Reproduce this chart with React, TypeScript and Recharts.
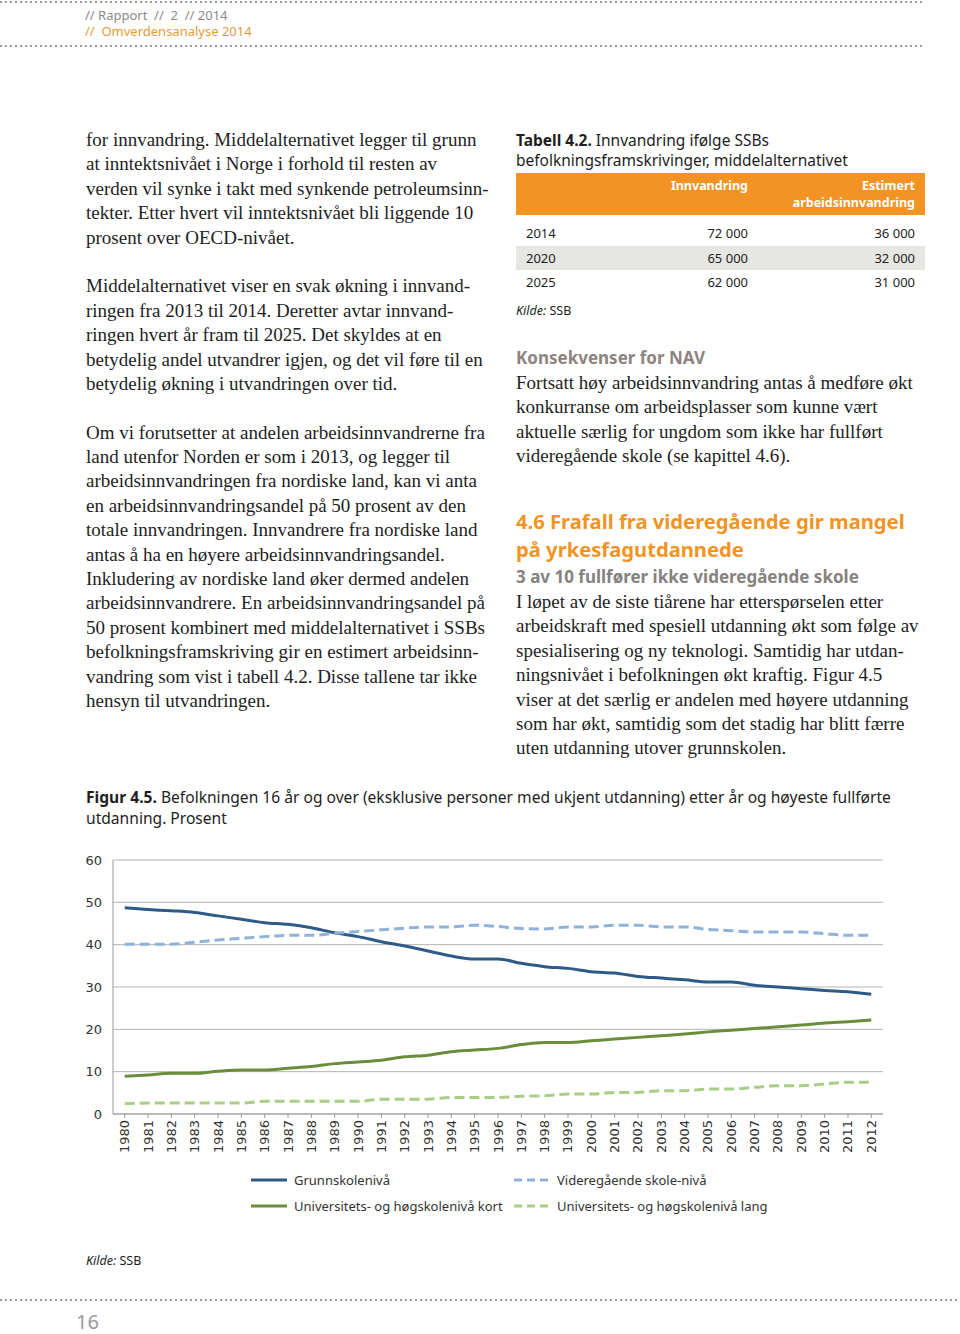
import React from "react";
import { LineChart, Line, XAxis, YAxis, CartesianGrid } from "recharts";

const years = [
  "1980","1981","1982","1983","1984","1985","1986","1987","1988","1989","1990",
  "1991","1992","1993","1994","1995","1996","1997","1998","1999","2000","2001",
  "2002","2003","2004","2005","2006","2007","2008","2009","2010","2011","2012",
];
const grunnskole = [
  48.7, 48.3, 48.0, 47.6, 46.8, 46.0, 45.2, 44.8, 44.0, 42.8, 41.9,
  40.7, 39.7, 38.5, 37.3, 36.6, 36.6, 35.6, 34.8, 34.4, 33.6, 33.3,
  32.5, 32.1, 31.7, 31.2, 31.2, 30.4, 30.0, 29.6, 29.2, 28.9, 28.3,
];
const videregaende = [
  40.1, 40.1, 40.1, 40.6, 41.1, 41.5, 41.9, 42.2, 42.2, 42.7, 43.1,
  43.5, 43.9, 44.2, 44.2, 44.6, 44.3, 43.8, 43.7, 44.2, 44.2, 44.6,
  44.6, 44.2, 44.2, 43.6, 43.3, 43.0, 43.0, 43.0, 42.6, 42.2, 42.2,
];
const uniKort = [
  8.9, 9.2, 9.6, 9.6, 10.1, 10.4, 10.4, 10.8, 11.2, 11.9, 12.3,
  12.7, 13.5, 13.9, 14.7, 15.1, 15.5, 16.4, 16.9, 16.9, 17.3, 17.7,
  18.1, 18.5, 18.9, 19.4, 19.8, 20.2, 20.6, 21.0, 21.5, 21.8, 22.2,
];
const uniLang = [
  2.4, 2.6, 2.6, 2.6, 2.6, 2.6, 3.0, 3.0, 3.0, 3.0, 3.0,
  3.5, 3.5, 3.5, 3.9, 3.9, 3.9, 4.2, 4.3, 4.7, 4.7, 5.1,
  5.1, 5.5, 5.5, 5.9, 5.9, 6.3, 6.7, 6.7, 7.1, 7.5, 7.5,
];
const yTicks = [0, 10, 20, 30, 40, 50, 60];

const seriesNames = [
  "Grunnskolenivå",
  "Videregående skole-nivå",
  "Universitets- og høgskolenivå kort",
  "Universitets- og høgskolenivå lang",
];

const tableYears = ["2014", "2020", "2025"];
const tableInnvandring = ["72 000", "65 000", "62 000"];
const tableArbeid = ["36 000", "32 000", "31 000"];

const leftText = [
  "for innvandring. Middelalternativet legger til grunn",
  "at inntektsnivået i Norge i forhold til resten av",
  "verden vil synke i takt med synkende petroleumsinn-",
  "tekter. Etter hvert vil inntektsnivået bli liggende 10",
  "prosent over OECD-nivået.",
  "",
  "Middelalternativet viser en svak økning i innvand-",
  "ringen fra 2013 til 2014. Deretter avtar innvand-",
  "ringen hvert år fram til 2025. Det skyldes at en",
  "betydelig andel utvandrer igjen, og det vil føre til en",
  "betydelig økning i utvandringen over tid.",
  "",
  "Om vi forutsetter at andelen arbeidsinnvandrerne fra",
  "land utenfor Norden er som i 2013, og legger til",
  "arbeidsinnvandringen fra nordiske land, kan vi anta",
  "en arbeidsinnvandringsandel på 50 prosent av den",
  "totale innvandringen. Innvandrere fra nordiske land",
  "antas å ha en høyere arbeidsinnvandringsandel.",
  "Inkludering av nordiske land øker dermed andelen",
  "arbeidsinnvandrere. En arbeidsinnvandringsandel på",
  "50 prosent kombinert med middelalternativet i SSBs",
  "befolkningsframskriving gir en estimert arbeidsinn-",
  "vandring som vist i tabell 4.2. Disse tallene tar ikke",
  "hensyn til utvandringen.",
];
const navText = [
  "Fortsatt høy arbeidsinnvandring antas å medføre økt",
  "konkurranse om arbeidsplasser som kunne vært",
  "aktuelle særlig for ungdom som ikke har fullført",
  "videregående skole (se kapittel 4.6).",
];
const sectionText = [
  "I løpet av de siste tiårene har etterspørselen etter",
  "arbeidskraft med spesiell utdanning økt som følge av",
  "spesialisering og ny teknologi. Samtidig har utdan-",
  "ningsnivået i befolkningen økt kraftig. Figur 4.5",
  "viser at det særlig er andelen med høyere utdanning",
  "som har økt, samtidig som det stadig har blitt færre",
  "uten utdanning utover grunnskolen.",
];

const chartData = years.map((y, i) => ({
  year: y,
  grunnskole: grunnskole[i],
  videregaende: videregaende[i],
  uniKort: uniKort[i],
  uniLang: uniLang[i],
}));

const SERIF = "'Liberation Serif', 'Times New Roman', serif";
const SANS = "'Noto Sans', 'Open Sans', sans-serif";
const CHART_FONT = "'DejaVu Sans', Verdana, sans-serif";
const ORANGE = "#F39323";
const TEXT = "#1e1e1e";

const colors = ["#2E5A88", "#8FB2DA", "#6A8D3A", "#A9CD85"];

const dotted = (top: number, width: number): React.CSSProperties => ({
  position: "absolute",
  top,
  left: 0,
  width,
  height: 2,
  backgroundImage: "linear-gradient(to right, #9a9a9a 0 2px, transparent 2px 5px)",
  backgroundSize: "5px 2px",
});

function TextLines({ lines, left, top, lh, style }: { lines: string[]; left: number; top: number; lh: number; style: React.CSSProperties }) {
  return (
    <div style={{ position: "absolute", left, top, whiteSpace: "pre", lineHeight: `${lh}px`, ...style }}>
      {lines.map((l, i) => (
        <div key={i} style={{ height: lh }}>{l}</div>
      ))}
    </div>
  );
}

const XTick = (props: any) => {
  const { x, y, payload } = props;
  return (
    <text
      x={x}
      y={y}
      transform={`rotate(-90 ${x} ${y})`}
      textAnchor="end"
      dominantBaseline="central"
      fontSize={13}
      fontFamily={CHART_FONT}
      fill="#333"
    >
      {payload.value}
    </text>
  );
};

function LegendItem({ color, dashed, label, left, top }: { color: string; dashed: boolean; label: string; left: number; top: number }) {
  return (
    <div style={{ position: "absolute", left, top: top - 10, height: 20, display: "flex", alignItems: "center", fontFamily: SANS, fontSize: 13, color: "#333", whiteSpace: "nowrap" }}>
      <svg width={36} height={6} style={{ marginRight: 7 }}>
        <line x1={0} y1={3} x2={36} y2={3} stroke={color} strokeWidth={3} strokeDasharray={dashed ? "8 5" : undefined} />
      </svg>
      {label}
    </div>
  );
}

export default function App() {
  return (
    <div style={{ position: "absolute", top: 0, left: 0, width: 960, height: 1334, background: "#fff", overflow: "hidden" }}>
      {/* header */}
      <div style={dotted(1, 925)} />
      <div style={{ position: "absolute", left: 85, top: 6, fontFamily: SANS, fontSize: 13, color: "#8a8a8a", lineHeight: "18px", whiteSpace: "pre" }}>
        {"// Rapport  //  2  // 2014"}
      </div>
      <div style={{ position: "absolute", left: 85, top: 22, fontFamily: SANS, fontSize: 13, color: "#E59A3A", lineHeight: "18px", whiteSpace: "pre" }}>
        {"//  Omverdensanalyse 2014"}
      </div>
      <div style={dotted(45, 925)} />

      {/* left column */}
      <TextLines lines={leftText} left={86} top={128} lh={24.4} style={{ fontFamily: SERIF, fontSize: 19, color: TEXT }} />

      {/* right column: table */}
      <div style={{ position: "absolute", left: 516, top: 130, fontFamily: SANS, fontSize: 15.5, color: TEXT, lineHeight: "20px", whiteSpace: "nowrap" }}>
        <div><b>Tabell 4.2.</b> Innvandring ifølge SSBs</div>
        <div>befolkningsframskrivinger, middelalternativet</div>
      </div>
      <div style={{ position: "absolute", left: 516, top: 173, width: 409, height: 42, background: ORANGE }} />
      <div style={{ position: "absolute", left: 600, width: 148, top: 177, textAlign: "right", fontFamily: SANS, fontWeight: 700, fontSize: 12.5, color: "#fff", lineHeight: "17px" }}>
        Innvandring
      </div>
      <div style={{ position: "absolute", left: 760, width: 155, top: 177, textAlign: "right", fontFamily: SANS, fontWeight: 700, fontSize: 12.5, color: "#fff", lineHeight: "17px" }}>
        Estimert<br />arbeidsinnvandring
      </div>
      {tableYears.map((y, i) => (
        <div key={y} style={{ position: "absolute", left: 516, top: 221 + i * 24.5, width: 409, height: 24.5, background: i === 1 ? "#E6E6E3" : "transparent", fontFamily: SANS, fontSize: 13, color: TEXT, lineHeight: "24.5px" }}>
          <span style={{ position: "absolute", left: 10 }}>{y}</span>
          <span style={{ position: "absolute", right: 409 - 232, textAlign: "right" }}>{tableInnvandring[i]}</span>
          <span style={{ position: "absolute", right: 10, textAlign: "right" }}>{tableArbeid[i]}</span>
        </div>
      ))}
      <div style={{ position: "absolute", left: 516, top: 302, fontFamily: SANS, fontSize: 12.5, color: TEXT, lineHeight: "18px" }}>
        <i>Kilde:</i> SSB
      </div>

      {/* Konsekvenser for NAV */}
      <div style={{ position: "absolute", left: 516, top: 346, fontFamily: SANS, fontWeight: 700, fontSize: 17, color: "#8b8480", lineHeight: "24px", whiteSpace: "nowrap" }}>
        Konsekvenser for NAV
      </div>
      <TextLines lines={navText} left={516} top={371} lh={24.4} style={{ fontFamily: SERIF, fontSize: 19, color: TEXT }} />

      {/* Section 4.6 */}
      <div style={{ position: "absolute", left: 516, top: 507, fontFamily: SANS, fontWeight: 700, fontSize: 20.2, color: ORANGE, lineHeight: "28px", whiteSpace: "nowrap" }}>
        <div>4.6 Frafall fra videregående gir mangel</div>
        <div>på yrkesfagutdannede</div>
      </div>
      <div style={{ position: "absolute", left: 516, top: 565, fontFamily: SANS, fontWeight: 700, fontSize: 17, color: "#86827f", lineHeight: "24px", whiteSpace: "nowrap" }}>
        3 av 10 fullfører ikke videregående skole
      </div>
      <TextLines lines={sectionText} left={516} top={590} lh={24.4} style={{ fontFamily: SERIF, fontSize: 19, color: TEXT }} />

      {/* figure caption */}
      <div style={{ position: "absolute", left: 86, top: 787, fontFamily: SANS, fontSize: 15.6, color: TEXT, lineHeight: "21px", whiteSpace: "nowrap" }}>
        <div><b>Figur 4.5.</b> Befolkningen 16 år og over (eksklusive personer med ukjent utdanning) etter år og høyeste fullførte</div>
        <div>utdanning. Prosent</div>
      </div>

      {/* chart */}
      <div style={{ position: "absolute", left: 0, top: 840 }}>
        <LineChart width={960} height={330} data={chartData} margin={{ top: 20, right: 77, bottom: 0, left: 0 }}>
          <CartesianGrid vertical={false} stroke="#b4b4b4" strokeWidth={1} />
          <XAxis
            dataKey="year"
            interval={0}
            height={56}
            padding={{ left: 11.7, right: 11.7 }}
            axisLine={{ stroke: "#999" }}
            tickLine={{ stroke: "#999" }}
            tickSize={4}
            tickMargin={2}
            tick={<XTick />}
          />
          <YAxis
            domain={[0, 60]}
            ticks={yTicks}
            width={113}
            axisLine={{ stroke: "#999" }}
            tickLine={false}
            tickSize={6}
            tickMargin={5}
            tick={{ fontSize: 13, fill: "#333", fontFamily: CHART_FONT }}
          />
          <Line type="monotone" dataKey="grunnskole" name={seriesNames[0]} stroke={colors[0]} strokeWidth={3} dot={false} isAnimationActive={false} />
          <Line type="monotone" dataKey="videregaende" name={seriesNames[1]} stroke={colors[1]} strokeWidth={3} strokeDasharray="10 5" dot={false} isAnimationActive={false} />
          <Line type="monotone" dataKey="uniKort" name={seriesNames[2]} stroke={colors[2]} strokeWidth={3} dot={false} isAnimationActive={false} />
          <Line type="monotone" dataKey="uniLang" name={seriesNames[3]} stroke={colors[3]} strokeWidth={3} strokeDasharray="10 5" dot={false} isAnimationActive={false} />
        </LineChart>
      </div>

      {/* legend */}
      <LegendItem color={colors[0]} dashed={false} label={seriesNames[0]} left={251} top={1180} />
      <LegendItem color={colors[1]} dashed={true} label={seriesNames[1]} left={514} top={1180} />
      <LegendItem color={colors[2]} dashed={false} label={seriesNames[2]} left={251} top={1206} />
      <LegendItem color={colors[3]} dashed={true} label={seriesNames[3]} left={514} top={1206} />

      <div style={{ position: "absolute", left: 86, top: 1252, fontFamily: SANS, fontSize: 12.5, color: TEXT, lineHeight: "18px" }}>
        <i>Kilde:</i> SSB
      </div>

      {/* footer */}
      <div style={dotted(1299, 960)} />
      <div style={{ position: "absolute", left: 76, top: 1309, fontFamily: SANS, fontSize: 20, color: "#9a9a9a", lineHeight: "26px" }}>
        16
      </div>
    </div>
  );
}
